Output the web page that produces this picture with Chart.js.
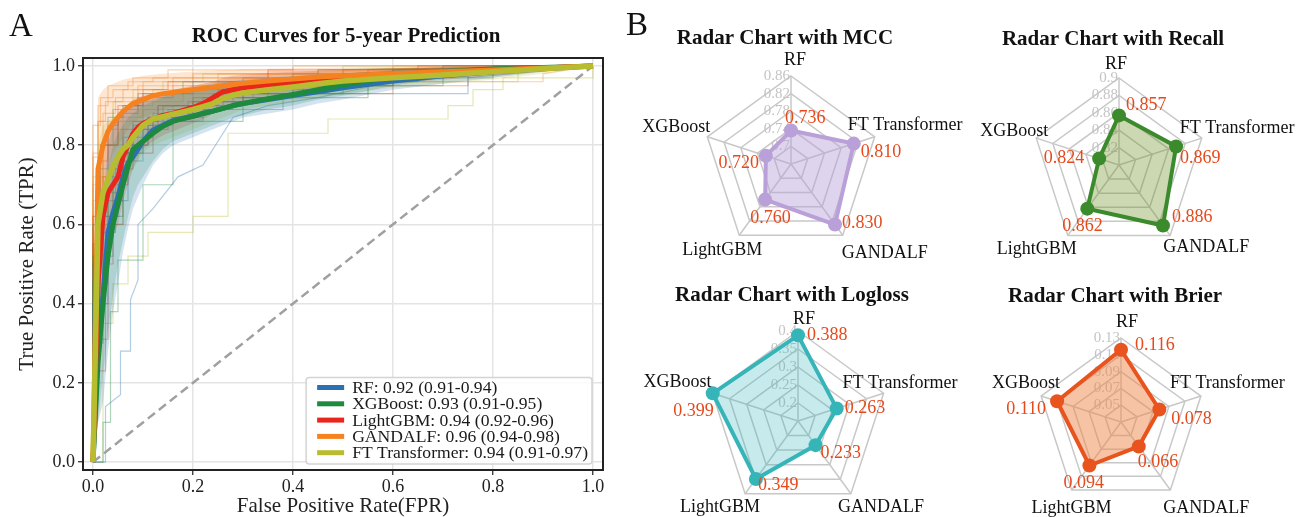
<!DOCTYPE html>
<html>
<head>
<meta charset="utf-8">
<title>ROC curves and radar charts</title>
<script src="https://cdn.jsdelivr.net/npm/chart.js@4.4.1/dist/chart.umd.min.js"></script>
<style>
  body { margin: 0; background: #fff; }
  #page { position: relative; width: 1313px; height: 517px; overflow: hidden; background: #fff;
          font-family: "Liberation Serif", "Times New Roman", serif; }
  canvas { position: absolute; }
  .tag { position: absolute; font-size: 33px; line-height: 1; color: #111; }
</style>
</head>
<body>
<div id="page">
  <canvas id="roc" width="620" height="522" style="left:0;top:0"></canvas>
  <canvas id="mcc"></canvas>
  <canvas id="logloss"></canvas>
  <canvas id="recall"></canvas>
  <canvas id="brier"></canvas>
  <div class="tag" style="left:9px;top:9px">A</div>
  <div class="tag" style="left:626px;top:8px">B</div>
</div>
<script>
const fontFamily = '"Liberation Serif", "Times New Roman", serif';
Chart.defaults.font.family = fontFamily;

// ---- panel A : ROC data ----
const models = ["RF", "XGBoost", "LightGBM", "GANDALF", "FT Transformer"];
const aucLabels = ["0.92 (0.91-0.94)", "0.93 (0.91-0.95)", "0.94 (0.92-0.96)", "0.96 (0.94-0.98)", "0.94 (0.91-0.97)"];
const modelColors = ["#2a71b3", "#1e8a3e", "#e8261c", "#f5821f", "#b7bd2e"];
const axisTicks = [0, 0.2, 0.4, 0.6, 0.8, 1.0];

const meanFpr = [0, .01, .02, .03, .04, .05, .06, .07, .08, .09, .10, .12, .14, .16, .18, .20, .22, .24, .26, .28, .30, .35, .40, .45, .50, .60, .70, .80, .90, 1.0];

const rfTpr      = [0, .30, .42, .58, .63, .67, .72, .755, .77, .79, .81, .838, .85, .862, .868, .873, .88, .886, .893, .90, .905, .915, .925, .935, .945, .962, .975, .985, .993, 1.0];
const rfLow      = [0, .10, .15, .28, .38, .45, .53, .59, .64, .67, .70, .75, .78, .80, .81, .82, .83, .84, .85, .86, .87, .88, .89, .905, .915, .94, .955, .97, .985, 1.0];
const rfHigh     = [0, .50, .66, .80, .85, .87, .88, .89, .90, .905, .91, .915, .925, .935, .94, .945, .95, .955, .96, .962, .965, .97, .975, .978, .98, .988, .993, .997, 1.0, 1.0];

const xgbTpr     = [0, .25, .40, .52, .60, .65, .70, .745, .79, .80, .81, .83, .848, .86, .867, .873, .88, .886, .893, .90, .905, .917, .928, .940, .952, .972, .985, .992, .996, 1.0];
const xgbLow     = [0, .10, .22, .33, .42, .50, .56, .62, .67, .70, .72, .76, .79, .81, .82, .83, .84, .85, .86, .87, .875, .89, .90, .915, .925, .95, .97, .98, .99, 1.0];
const xgbHigh    = [0, .45, .62, .74, .80, .83, .85, .87, .88, .89, .90, .91, .92, .93, .935, .94, .945, .95, .955, .958, .96, .965, .97, .975, .98, .99, .995, .998, 1.0, 1.0];

const lgbmTpr    = [0, .45, .62, .68, .70, .72, .77, .80, .83, .845, .855, .865, .875, .88, .888, .895, .905, .92, .935, .94, .945, .952, .958, .962, .966, .975, .983, .99, .995, 1.0];
const lgbmLow    = [0, .25, .42, .52, .57, .60, .66, .70, .74, .77, .79, .81, .825, .835, .845, .855, .865, .88, .895, .905, .91, .92, .93, .935, .94, .955, .965, .975, .985, 1.0];
const lgbmHigh   = [0, .65, .80, .84, .85, .86, .88, .90, .915, .92, .925, .93, .935, .94, .945, .95, .955, .96, .97, .975, .978, .982, .985, .988, .99, .994, .997, 1.0, 1.0, 1.0];

const gandalfTpr = [0, .74, .80, .835, .855, .87, .885, .895, .905, .91, .915, .925, .93, .933, .937, .94, .943, .946, .95, .953, .956, .962, .967, .972, .975, .98, .985, .99, .995, 1.0];
const gandalfLow = [0, .55, .67, .74, .78, .80, .82, .84, .855, .865, .87, .88, .89, .895, .90, .905, .91, .915, .92, .925, .93, .935, .94, .945, .95, .96, .97, .98, .99, 1.0];
const gandalfHigh= [0, .92, .94, .95, .955, .96, .965, .968, .97, .972, .975, .978, .98, .982, .984, .985, .987, .988, .99, .99, .992, .993, .994, .995, .996, .998, 1.0, 1.0, 1.0, 1.0];

const ftTpr      = [0, .60, .68, .715, .745, .77, .79, .80, .82, .835, .85, .866, .872, .878, .884, .89, .897, .905, .918, .926, .932, .94, .947, .955, .962, .97, .977, .985, .993, 1.0];
const ftLow      = [0, .38, .50, .57, .62, .66, .70, .72, .74, .76, .78, .80, .81, .82, .83, .84, .85, .86, .87, .88, .89, .90, .91, .92, .93, .945, .955, .965, .98, 1.0];
const ftHigh     = [0, .80, .85, .86, .87, .88, .885, .89, .90, .91, .92, .93, .935, .94, .945, .95, .955, .96, .965, .97, .972, .978, .982, .986, .99, .995, .998, 1.0, 1.0, 1.0];

// individual cross-validation folds (thin lines)
const rfFolds = [
  { fpr: [0, .025, .025, .055, .055, .075, .075, .09, .09, .12, .17, .22, .28, .35, .45, .6, .8, 1], tpr: [0, 0, .14, .17, .28, .28, .41, .46, .60, .64, .72, .75, .87, .90, .92, .96, .98, 1] },
  { fpr: [0, 0, .02, .02, .05, .05, .08, .08, .13, .13, .25, .25, .5, .5, 1], tpr: [0, .36, .36, .62, .62, .78, .78, .86, .86, .90, .90, .94, .94, .98, 1] },
  { fpr: [0, 0, .01, .01, .03, .03, .06, .06, .1, .1, .2, .2, .4, .4, .7, .7, 1], tpr: [0, .5, .5, .74, .74, .87, .87, .9, .9, .93, .93, .96, .96, .98, .98, 1, 1] },
  { fpr: [0, 0, .03, .03, .07, .07, .11, .11, .19, .19, .32, .32, .6, .6, 1], tpr: [0, .4, .4, .66, .66, .8, .8, .87, .87, .91, .91, .95, .95, .99, 1] },
  { fpr: [0, 0, .015, .015, .045, .045, .1, .1, .22, .22, .38, .38, .75, .75, 1], tpr: [0, .28, .28, .58, .58, .76, .76, .86, .86, .89, .89, .93, .93, .97, 1] }
];
const xgbFolds = [
  { fpr: [0, .02, .02, .035, .035, .05, .05, .1, .1, .16, .16, .3, .3, .55, .55, 1], tpr: [0, 0, .10, .10, .38, .38, .51, .51, .70, .70, .86, .86, .92, .92, .97, 1] },
  { fpr: [0, 0, .03, .03, .06, .06, .12, .12, .2, .2, .35, .35, .7, .7, 1], tpr: [0, .45, .45, .68, .68, .82, .82, .88, .88, .92, .92, .95, .95, .99, 1] },
  { fpr: [0, 0, .015, .015, .04, .04, .09, .09, .18, .18, .45, .45, 1], tpr: [0, .6, .6, .8, .8, .89, .89, .93, .93, .96, .96, .99, 1] },
  { fpr: [0, 0, .02, .02, .06, .06, .1, .1, .15, .15, .28, .28, .5, .5, .8, .8, 1], tpr: [0, .3, .3, .62, .62, .78, .78, .84, .84, .89, .89, .93, .93, .97, .97, 1, 1] },
  { fpr: [0, 0, .04, .04, .08, .08, .14, .14, .24, .24, .42, .42, .65, .65, 1], tpr: [0, .52, .52, .74, .74, .85, .85, .9, .9, .93, .93, .96, .96, .99, 1] }
];
const lgbmFolds = [
  { fpr: [0, 0, .025, .025, .04, .04, .07, .07, .11, .11, .2, .2, .3, .3, .6, .6, 1], tpr: [0, .23, .23, .50, .50, .70, .70, .80, .80, .87, .87, .91, .91, .95, .95, .99, 1] },
  { fpr: [0, 0, .01, .01, .03, .03, .05, .05, .1, .1, .15, .15, .35, .35, .65, .65, 1], tpr: [0, .55, .55, .76, .76, .85, .85, .9, .9, .94, .94, .96, .96, .99, .99, 1, 1] },
  { fpr: [0, 0, .02, .02, .06, .06, .13, .13, .26, .26, .5, .5, 1], tpr: [0, .4, .4, .72, .72, .84, .84, .9, .9, .95, .95, .98, 1] },
  { fpr: [0, 0, .015, .015, .05, .05, .09, .09, .16, .16, .3, .3, .55, .55, 1], tpr: [0, .62, .62, .8, .8, .88, .88, .92, .92, .95, .95, .97, .97, .99, 1] },
  { fpr: [0, 0, .03, .03, .06, .06, .12, .12, .22, .22, .4, .4, .75, .75, 1], tpr: [0, .31, .31, .6, .6, .78, .78, .87, .87, .92, .92, .95, .95, .98, 1] }
];
const gandalfFolds = [
  { fpr: [0, 0, .01, .01, .03, .03, .08, .08, .15, .15, .4, .4, 1], tpr: [0, .77, .77, .9, .9, .95, .95, .97, .97, .99, .99, 1, 1] },
  { fpr: [0, 0, .02, .02, .05, .05, .1, .1, .2, .2, .3, .3, .6, .6, .9, .9, 1], tpr: [0, .62, .62, .8, .8, .86, .86, .89, .89, .91, .91, .93, .93, .96, .96, .98, 1] },
  { fpr: [0, 0, .015, .015, .04, .04, .07, .07, .12, .12, .25, .25, .5, .5, 1], tpr: [0, .85, .85, .92, .92, .94, .94, .96, .96, .97, .97, .98, .98, .99, 1] },
  { fpr: [0, 0, .01, .01, .025, .025, .06, .06, .1, .1, .2, .2, .45, .45, .7, .7, 1], tpr: [0, .7, .7, .86, .86, .91, .91, .94, .94, .96, .96, .98, .98, .99, .99, 1, 1] },
  { fpr: [0, 0, .02, .02, .045, .045, .09, .09, .16, .16, .35, .35, .6, .6, 1], tpr: [0, .78, .78, .88, .88, .92, .92, .95, .95, .97, .97, .985, .985, 1, 1] }
];
const ftFolds = [
  { fpr: [0, .02, .02, .04, .04, .07, .07, .11, .11, .2, .2, .27, .27, .47, .47, .71, .71, .76, .76, .82, .82, 1, 1], tpr: [0, 0, .35, .35, .45, .45, .52, .52, .58, .58, .62, .62, .83, .83, .866, .866, .9, .9, .94, .94, .97, .97, 1] },
  { fpr: [0, 0, .01, .01, .03, .03, .06, .06, .12, .12, .25, .25, .5, .5, 1], tpr: [0, .5, .5, .72, .72, .84, .84, .9, .9, .94, .94, .97, .97, .99, 1] },
  { fpr: [0, 0, .02, .02, .05, .05, .1, .1, .18, .18, .4, .4, .7, .7, 1], tpr: [0, .66, .66, .8, .8, .87, .87, .91, .91, .93, .93, .96, .96, .99, 1] },
  { fpr: [0, 0, .025, .025, .06, .06, .09, .09, .16, .16, .3, .3, .55, .55, .85, .85, 1], tpr: [0, .44, .44, .6, .6, .76, .76, .85, .85, .9, .9, .93, .93, .96, .96, .99, 1] },
  { fpr: [0, 0, .01, .01, .04, .04, .08, .08, .14, .14, .22, .22, .5, .5, 1], tpr: [0, .72, .72, .86, .86, .91, .91, .94, .94, .96, .96, .98, .98, 1, 1] }
];

// ---- panel B : radar data ----
const radarAxes = ["RF", "FT Transformer", "GANDALF", "LightGBM", "XGBoost"];
const mccValues     = [0.736, 0.810, 0.830, 0.760, 0.720];
const recallValues  = [0.857, 0.869, 0.886, 0.862, 0.824];
const loglossValues = [0.388, 0.263, 0.233, 0.349, 0.399];
const brierValues   = [0.116, 0.078, 0.066, 0.094, 0.110];
const mccTicks     = [0.66, 0.70, 0.74, 0.78, 0.82, 0.86];
const recallTicks  = [0.80, 0.82, 0.84, 0.86, 0.88, 0.90];
const loglossTicks = [0.15, 0.20, 0.25, 0.30, 0.35, 0.40];
const brierTicks   = [0.03, 0.05, 0.07, 0.09, 0.11, 0.13];

// ---------------------------------------------------------------
function rgba(hex, a) {
  const n = parseInt(hex.slice(1), 16);
  return `rgba(${n >> 16},${(n >> 8) & 255},${n & 255},${a})`;
}
const pts = (xs, ys) => xs.map((x, i) => ({ x, y: ys[i] }));

const meanSeries = [rfTpr, xgbTpr, lgbmTpr, gandalfTpr, ftTpr];
const lowSeries = [rfLow, xgbLow, lgbmLow, gandalfLow, ftLow];
const highSeries = [rfHigh, xgbHigh, lgbmHigh, gandalfHigh, ftHigh];
const foldSeries = [rfFolds, xgbFolds, lgbmFolds, gandalfFolds, ftFolds];

const rocDatasets = [];
foldSeries.forEach((folds, m) => {
  folds.forEach(f => rocDatasets.push({
    data: pts(f.fpr, f.tpr), borderColor: rgba(modelColors[m], 0.36), borderWidth: 1.2,
    pointRadius: 0, fill: false, order: 40
  }));
});
models.forEach((name, m) => {
  rocDatasets.push({ data: pts(meanFpr, highSeries[m]), borderColor: "rgba(0,0,0,0)", borderWidth: 0, pointRadius: 0, fill: false, order: 30 });
  rocDatasets.push({ data: pts(meanFpr, lowSeries[m]), borderColor: "rgba(0,0,0,0)", borderWidth: 0, pointRadius: 0,
    fill: "-1", backgroundColor: rgba(modelColors[m], 0.2), order: 30 });
});
rocDatasets.push({
  data: [{ x: 0, y: 0 }, { x: 1, y: 1 }], borderColor: "#a0a0a0", borderWidth: 2.5, borderDash: [9, 5],
  pointRadius: 0, fill: false, order: 20
});
models.forEach((name, m) => {
  rocDatasets.push({
    label: name, data: pts(meanFpr, meanSeries[m]), borderColor: modelColors[m], borderWidth: m === 4 ? 5.5 : 5,
    borderJoinStyle: "round", pointRadius: 0, fill: false, order: 10 - m
  });
});

const rocDecor = {
  id: "rocDecor",
  afterDraw(chart) {
    const { ctx, chartArea: a } = chart;
    ctx.save();
    ctx.strokeStyle = "#222";
    ctx.lineWidth = 2;
    ctx.strokeRect(a.left, a.top, a.right - a.left, a.bottom - a.top);

    ctx.fillStyle = "#111";
    ctx.font = "bold 21px " + fontFamily;
    ctx.textAlign = "center";
    ctx.textBaseline = "middle";
    ctx.fillText("ROC Curves for 5-year Prediction", (a.left + a.right) / 2 + 3, a.top - 21);

    // legend box
    ctx.font = "17.6px " + fontFamily;
    const texts = models.map((m, i) => `${m}: ${aucLabels[i]}`);
    const textW = Math.max(...texts.map(t => ctx.measureText(t).width));
    const rowH = 16.3;
    const boxW = 46 + textW + 4, boxH = rowH * 5 + 5;
    const bx = a.right - 11 - boxW, by = a.bottom - 6 - boxH;
    ctx.beginPath();
    ctx.roundRect(bx, by, boxW, boxH, 3);
    ctx.fillStyle = "rgba(255,255,255,0.85)";
    ctx.fill();
    ctx.strokeStyle = "#d4d4d4";
    ctx.lineWidth = 1.5;
    ctx.stroke();
    texts.forEach((t, i) => {
      const y = by + 10 + i * rowH;
      ctx.strokeStyle = modelColors[i];
      ctx.lineWidth = 5;
      ctx.beginPath();
      ctx.moveTo(bx + 11, y);
      ctx.lineTo(bx + 38, y);
      ctx.stroke();
      ctx.fillStyle = "#1a1a1a";
      ctx.textAlign = "left";
      ctx.fillText(t, bx + 46, y + 1);
    });
    ctx.restore();
  }
};

new Chart(document.getElementById("roc"), {
  type: "line",
  data: { datasets: rocDatasets },
  options: {
    responsive: false, animation: false, devicePixelRatio: 1, events: [],
    layout: { padding: { left: 0, top: 58, right: 17, bottom: 0 } },
    plugins: { legend: { display: false }, tooltip: { enabled: false } },
    scales: {
      x: {
        type: "linear", min: -0.02, max: 1.02,
        afterBuildTicks: s => { s.ticks = axisTicks.map(v => ({ value: v })); },
        afterFit: s => { s.height = 52; },
        ticks: { callback: v => v.toFixed(1), color: "#222", font: { size: 18 }, padding: 1, maxRotation: 0 },
        grid: { color: "#e4e4e4", lineWidth: 1.5, tickColor: "#222", tickLength: 5, tickWidth: 1.2 },
        border: { display: true, color: "#222", width: 2 },
        title: { display: true, text: "False Positive Rate(FPR)", color: "#222", font: { size: 21 }, padding: { top: 0, bottom: 3 } }
      },
      y: {
        type: "linear", min: -0.02, max: 1.02,
        afterBuildTicks: s => { s.ticks = axisTicks.map(v => ({ value: v })); },
        afterFit: s => { s.width = 83; },
        ticks: { callback: v => v.toFixed(1), color: "#222", font: { size: 18 }, padding: 3 },
        grid: { color: "#e4e4e4", lineWidth: 1.5, tickColor: "#222", tickLength: 5, tickWidth: 1.2 },
        border: { display: true, color: "#222", width: 2 },
        title: { display: true, text: "True Positive Rate (TPR)", color: "#222", font: { size: 21 }, padding: { top: 15, bottom: 0 } }
      }
    }
  },
  plugins: [rocDecor]
});

// ---------------------------------------------------------------
// radar panels
const tickText = v => String(parseFloat(v.toFixed(2)));
const valueAlign = ["left", "left", "left", "left", "right"];
const axisAlign = ["center", "left", "left", "center", "right"];

const radarText = {
  id: "radarText",
  beforeDatasetsDraw(chart) {
    const s = chart.scales.r, ctx = chart.ctx;
    ctx.save();
    ctx.font = "15px " + fontFamily;
    ctx.fillStyle = "#c4c4c4";
    ctx.textAlign = "right";
    ctx.textBaseline = "middle";
    s.ticks.forEach((t, i) => {
      if (i === 0) return;
      ctx.fillText(tickText(t.value), s.xCenter - 1, s.yCenter - s.getDistanceFromCenterForValue(t.value));
    });
    ctx.restore();
  },
  afterDatasetsDraw(chart, args, opts) {
    const s = chart.scales.r, ctx = chart.ctx;
    const values = chart.data.datasets[0].data;
    const meta = chart.getDatasetMeta(0);
    ctx.save();
    ctx.textBaseline = "middle";
    ctx.font = "18px " + fontFamily;
    ctx.fillStyle = "#e64a1c";
    meta.data.forEach((p, i) => {
      const [dx, dy] = opts.valueShift[i];
      ctx.textAlign = valueAlign[i];
      ctx.fillText(values[i].toFixed(3), p.x + dx, p.y + dy);
    });
    ctx.fillStyle = "#111";
    chart.data.labels.forEach((lab, i) => {
      const v = s.getPointPosition(i, s.drawingArea);
      const [dx, dy] = opts.axisShift[i];
      ctx.textAlign = axisAlign[i];
      ctx.fillText(lab, v.x + dx, v.y + dy);
    });
    ctx.font = "bold 21px " + fontFamily;
    ctx.textAlign = "center";
    ctx.fillText(opts.title, s.xCenter - 6, s.yCenter - 125);
    ctx.restore();
  }
};

function makeRadar(id, title, values, ticks, look, place) {
  const canvas = document.getElementById(id);
  canvas.width = place.w;
  canvas.height = place.h;
  canvas.style.left = place.x + "px";
  canvas.style.top = place.y + "px";
  const pad = {
    left: place.cx - place.x - place.r,
    top: place.cy - place.y - place.r,
    right: place.x + place.w - place.cx - place.r,
    bottom: place.y + place.h - place.cy - place.r
  };
  return new Chart(canvas, {
    type: "radar",
    data: {
      labels: radarAxes,
      datasets: [{
        data: values, borderColor: look.line, backgroundColor: look.fill, borderWidth: 4, fill: true,
        pointRadius: 7, pointBorderWidth: 0, pointBackgroundColor: look.line
      }]
    },
    options: {
      responsive: false, animation: false, devicePixelRatio: 1, events: [],
      layout: { padding: pad },
      plugins: {
        legend: { display: false }, tooltip: { enabled: false },
        radarText: { title, valueShift: look.valueShift, axisShift: look.axisShift }
      },
      scales: {
        r: {
          min: ticks[0], max: ticks[ticks.length - 1],
          afterBuildTicks: s => { s.ticks = ticks.map(v => ({ value: v })); },
          ticks: { display: false },
          pointLabels: { display: false },
          grid: { color: "#c8c8c8", lineWidth: 1.5 },
          angleLines: { color: "#c8c8c8", lineWidth: 1.5 }
        }
      }
    },
    plugins: [radarText]
  });
}

makeRadar("mcc", "Radar Chart with MCC", mccValues, mccTicks, {
    line: "#b9a0d8", fill: "rgba(185,160,216,0.45)",
    valueShift: [[-6, -12], [7, 9], [7, -1], [-15, 19], [-7, 7]],
    axisShift: [[4, -16], [-27, -12], [-1, 18], [-17, 15], [3, -10]]
  },
  { x: 625, y: 0, w: 350, h: 262, cx: 791, cy: 164, r: 88 });
makeRadar("logloss", "Radar Chart with Logloss", loglossValues, loglossTicks, {
    line: "#36b5b9", fill: "rgba(54,181,185,0.28)",
    valueShift: [[9, 0], [8, 0], [5, 8], [2, 6], [1, 18]],
    axisShift: [[6, -12], [-41, -10], [-13, 13], [-25, 13], [-1, -11]]
  },
  { x: 625, y: 256, w: 350, h: 261, cx: 798, cy: 421, r: 90 });
makeRadar("recall", "Radar Chart with Recall", recallValues, recallTicks, {
    line: "#3b8a2c", fill: "rgba(107,142,35,0.35)",
    valueShift: [[7, -10], [4, 12], [9, -8], [-25, 18], [-15, 0]],
    axisShift: [[-3, -14], [-22, -10], [-7, 12], [-31, 14], [12, -7]]
  },
  { x: 965, y: 0, w: 348, h: 262, cx: 1119, cy: 165, r: 87 });
makeRadar("brier", "Radar Chart with Brier", brierValues, brierTicks, {
    line: "#e9531e", fill: "rgba(240,135,75,0.5)",
    valueShift: [[14, -4], [12, 10], [-1, 16], [-26, 18], [-11, 8]],
    axisShift: [[6, -16], [-31, -13], [-7, 18], [0, 18], [19, -13]]
  },
  { x: 965, y: 256, w: 348, h: 261, cx: 1121, cy: 422, r: 84 });
</script>
</body>
</html>
